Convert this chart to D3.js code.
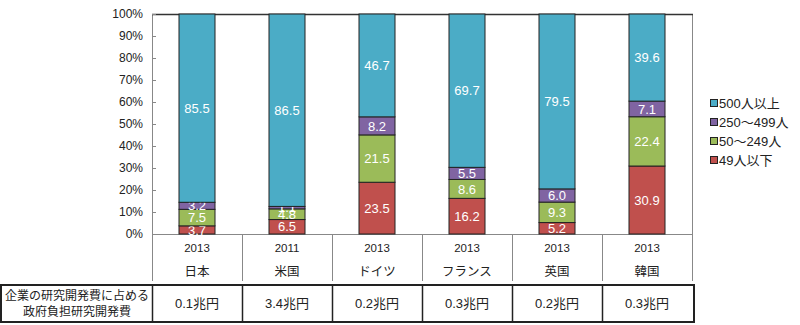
<!DOCTYPE html>
<html><head><meta charset="utf-8">
<script src="https://cdn.jsdelivr.net/npm/d3@7/dist/d3.min.js"></script>
<style>
body{margin:0;background:#fff;}
text{font-family:"Liberation Sans","Noto Sans CJK JP",sans-serif;}
</style></head><body>
<svg id="c" width="800" height="325"></svg>
<script>
const countries = ["日本","米国","ドイツ","フランス","英国","韓国"];
const years = ["2013","2011","2013","2013","2013","2013"];
const seriesNames = ["49人以下","50～249人","250～499人","500人以上"];
const s49 = [3.7, 6.5, 23.5, 16.2, 5.2, 30.9];
const s50 = [7.5, 4.8, 21.5, 8.6, 9.3, 22.4];
const s250 = [3.2, 1.1, 8.2, 5.5, 6.0, 7.1];
const s500 = [85.5, 86.5, 46.7, 69.7, 79.5, 39.6];
const govSpend = ["0.1兆円","3.4兆円","0.2兆円","0.3兆円","0.2兆円","0.3兆円"];
const tableHeader = ["企業の研究開発費に占める","政府負担研究開発費"];
const yTicks = [0,0.1,0.2,0.3,0.4,0.5,0.6,0.7,0.8,0.9,1.0];
const colors = ["#c0504d","#9bbb59","#8064a2","#4bacc6"];

const svg = d3.select("#c");
const L=152, R=692, T=14, B=234;
const x = d3.scaleBand().domain(countries).range([L,R]).padding(0);
const y = d3.scaleLinear().domain([0,1]).range([B,T]);

const rows = countries.map((c,i)=>({c, a:s49[i], b:s50[i], d:s250[i], e:s500[i]}));
const keys = ["a","b","d","e"];
const valsBy = {a:s49,b:s50,d:s250,e:s500};
const stack = d3.stack().keys(keys).offset(d3.stackOffsetExpand);
const layers = stack(rows);

// axes frame
svg.append("line").attr("x1",L+0.5).attr("x2",L+0.5).attr("y1",T).attr("y2",281).attr("stroke","#888");
svg.append("line").attr("x1",R+0.5).attr("x2",R+0.5).attr("y1",T).attr("y2",281).attr("stroke","#888");
svg.append("line").attr("x1",L).attr("x2",R+1).attr("y1",T+0.5).attr("y2",T+0.5).attr("stroke","#333").attr("stroke-width",1.5);
svg.append("line").attr("x1",L).attr("x2",R+1).attr("y1",B+0.5).attr("y2",B+0.5).attr("stroke","#888");
// y ticks
const yAxis = svg.append("g");
yTicks.forEach(t=>{
  yAxis.append("line").attr("x1",L).attr("x2",L+4).attr("y1",Math.round(y(t))+0.5).attr("y2",Math.round(y(t))+0.5).attr("stroke","#888");
  yAxis.append("text").attr("x",143).attr("y",y(t)).attr("dy","0.35em").attr("text-anchor","end")
    .attr("font-size",12).attr("fill","#222").text(d3.format(".0%")(t));
});
// category dividers
countries.forEach((c,i)=>{
  if(i>0) svg.append("line").attr("x1",x(c)+0.5).attr("x2",x(c)+0.5).attr("y1",B).attr("y2",281).attr("stroke","#888");
  svg.append("text").attr("x",x(c)+x.bandwidth()/2).attr("y",248).attr("dy","0.35em").attr("text-anchor","middle")
    .attr("font-size",11.5).attr("fill","#222").attr("font-family","'Liberation Sans Narrow','Liberation Sans',sans-serif").text(years[i]);
  svg.append("text").attr("x",x(c)+x.bandwidth()/2).attr("y",272).attr("dy","0.35em").attr("text-anchor","middle")
    .attr("font-size",12.5).attr("fill","#222").attr("font-family","'Noto Sans CJK JP',sans-serif").text(c);
});

// bars
const bw = x.bandwidth()*0.4;
layers.forEach((layer,li)=>{
  const g = svg.append("g");
  layer.forEach((d,i)=>{
    const cx = x(countries[i])+x.bandwidth()/2;
    g.append("rect").attr("x",cx-bw/2).attr("y",y(d[1])).attr("width",bw).attr("height",y(d[0])-y(d[1]))
      .attr("fill",colors[li]).attr("stroke","#222").attr("stroke-width",1);
    g.append("text").attr("x",cx).attr("y",(y(d[0])+y(d[1]))/2).attr("dy","0.36em").attr("text-anchor","middle")
      .attr("font-size",13).attr("fill","#fff").text(d3.format(".1f")(valsBy[layer.key][i]));
  });
});

// legend
const legOrder = [3,2,1,0];
legOrder.forEach((si,k)=>{
  const ly = 103 + k*19;
  svg.append("rect").attr("x",710.5).attr("y",ly-3.5).attr("width",7).attr("height",7)
    .attr("fill",colors[si]).attr("stroke","#222").attr("stroke-width",1);
  svg.append("text").attr("x",719).attr("y",ly).attr("dy","0.36em").attr("font-size",13).attr("fill","#222")
    .attr("font-family","'Liberation Sans','Noto Sans CJK JP',sans-serif").text(seriesNames[si]);
});

// table
const tT=285, tB=322;
svg.append("rect").attr("x",1).attr("y",tT).attr("width",R+1).attr("height",tB-tT).attr("fill","none").attr("stroke","#222").attr("stroke-width",2);
countries.forEach((c,i)=>{
  svg.append("line").attr("x1",x(c)+0.5).attr("x2",x(c)+0.5).attr("y1",tT).attr("y2",tB).attr("stroke","#222").attr("stroke-width",1.5);
  svg.append("text").attr("x",x(c)+x.bandwidth()/2).attr("y",(tT+tB)/2).attr("dy","0.36em").attr("text-anchor","middle")
    .attr("font-size",13).attr("fill","#222").attr("font-family","'Liberation Sans','Noto Sans CJK JP',sans-serif").text(govSpend[i]);
});
tableHeader.forEach((t,k)=>{
  svg.append("text").attr("x",L/2+1).attr("y",296+k*16).attr("dy","0.36em").attr("text-anchor","middle")
    .attr("font-size",12).attr("fill","#222").attr("font-family","'Noto Sans CJK JP',sans-serif").text(t);
});
</script>
</body></html>
